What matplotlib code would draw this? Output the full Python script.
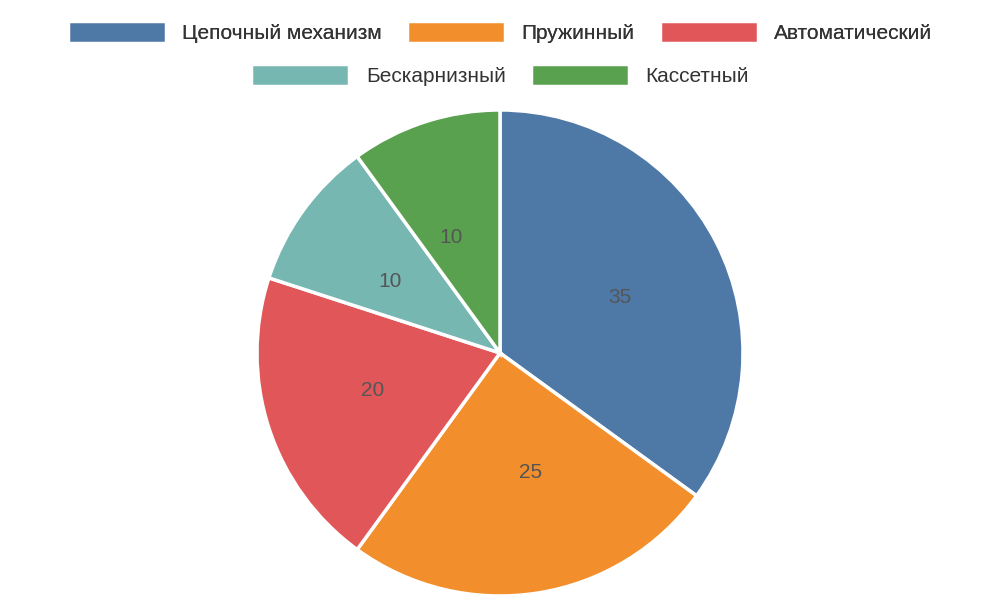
import matplotlib.pyplot as plt

plt.rcParams["font.family"] = ["Liberation Sans", "DejaVu Sans"]

labels = ["Цепочный механизм", "Пружинный", "Автоматический", "Бескарнизный", "Кассетный"]
values = [35, 25, 20, 10, 10]
colors = ["#4e79a7", "#f28e2b", "#e15759", "#76b7b2", "#59a14f"]

fig = plt.figure(figsize=(10, 6), dpi=100)
ax = fig.add_axes([0.257, 0.0067, 0.486, 0.81])

wedges, texts = ax.pie(
    values,
    colors=colors,
    startangle=90,
    counterclock=False,
    labels=[str(v) for v in values],
    labeldistance=0.5,
    wedgeprops=dict(edgecolor="white", linewidth=2.5),
    textprops=dict(fontsize=15, color="#555555"),
)
ax.set_xlim(-1, 1)
ax.set_ylim(-1, 1)
ax.set_aspect("equal")

leg_kw = dict(frameon=False, fontsize=15, handlelength=4.7, handleheight=1.2,
              columnspacing=1.2, handletextpad=0.8, loc="center")
leg1 = fig.legend(wedges[:3], labels[:3], ncol=3, bbox_to_anchor=(0.5, 1 - 32 / 600), **leg_kw)
for t in leg1.get_texts():
    t.set_color("#333333")
fig.add_artist(leg1)
leg2 = fig.legend(wedges[3:], labels[3:], ncol=2, bbox_to_anchor=(0.5, 1 - 75 / 600), **leg_kw)
for t in leg2.get_texts():
    t.set_color("#333333")

fig.savefig("out.png", dpi=100)
